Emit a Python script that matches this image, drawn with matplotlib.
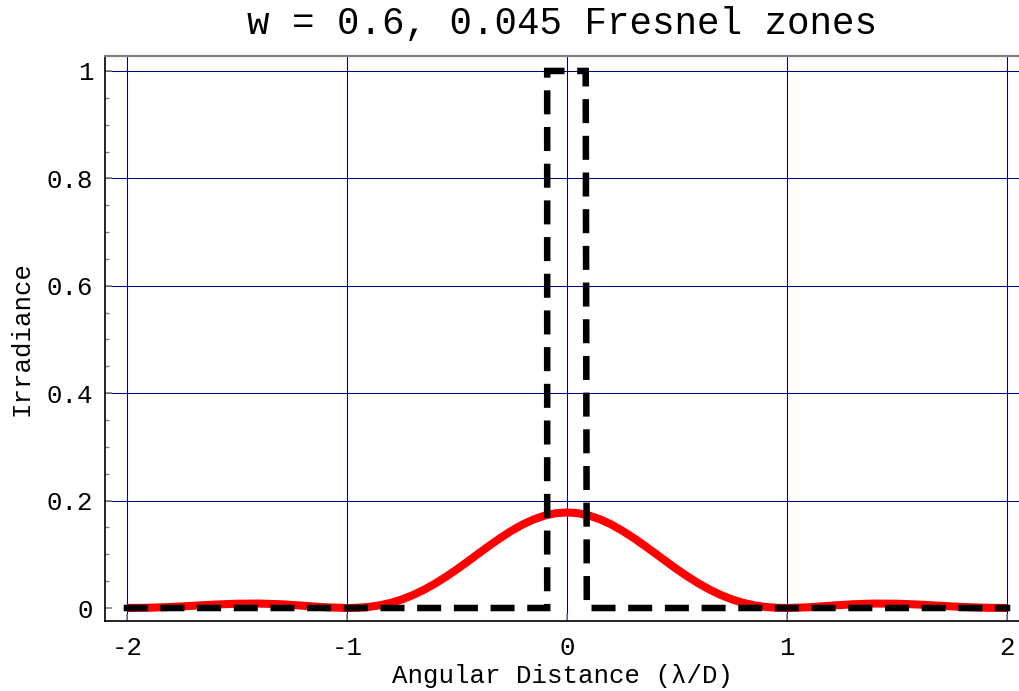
import matplotlib
matplotlib.use("Agg")
import matplotlib.pyplot as plt
from matplotlib.ticker import MultipleLocator

# irradiance of the diffraction pattern (finer sampling across the central lobe)
angle = [-2.0, -1.9, -1.8, -1.7, -1.6, -1.5, -1.4, -1.3, -1.2, -1.1,
         -1.0, -0.95, -0.9, -0.85, -0.8, -0.75, -0.7, -0.65, -0.6, -0.55,
         -0.5, -0.45, -0.4, -0.35, -0.3, -0.25, -0.2, -0.15, -0.1, -0.05,
         0.0, 0.05, 0.1, 0.15, 0.2, 0.25, 0.3, 0.35, 0.4, 0.45,
         0.5, 0.55, 0.6, 0.65, 0.7, 0.75, 0.8, 0.85, 0.9, 0.95,
         1.0, 1.1, 1.2, 1.3, 1.4, 1.5, 1.6, 1.7, 1.8, 1.9, 2.0]
irradiance = [0.0, 0.0005, 0.0019, 0.0041, 0.0064, 0.0080, 0.0083, 0.0070, 0.0043, 0.0014,
              0.0, 0.0005, 0.0021, 0.0051, 0.0097, 0.0160, 0.0241, 0.0339, 0.0453, 0.0582,
              0.0721, 0.0869, 0.1020, 0.1169, 0.1312, 0.1443, 0.1558, 0.1652, 0.1722, 0.1765,
              0.178, 0.1765, 0.1722, 0.1652, 0.1558, 0.1443, 0.1312, 0.1169, 0.1020, 0.0869,
              0.0721, 0.0582, 0.0453, 0.0339, 0.0241, 0.0160, 0.0097, 0.0051, 0.0021, 0.0005,
              0.0, 0.0014, 0.0043, 0.0070, 0.0083, 0.0080, 0.0064, 0.0041, 0.0019, 0.0005, 0.0]

# top-hat reference profile
rect_x = [-2.0, -0.09, -0.09, 0.085, 0.09, 2.0]
rect_y = [0.0, 0.0, 1.0, 1.0, 0.0, 0.0]

x_ticks = [-2, -1, 0, 1, 2]
y_ticks = [0, 0.2, 0.4, 0.6, 0.8, 1]
y_ticklabels = ["0", "0.2", "0.4", "0.6", "0.8", "1"]
y_grid = [0.2, 0.4, 0.6, 0.8, 1.0]

mono = "Liberation Mono"
grid_color = "#000080"

fig = plt.figure(figsize=(10.2, 6.91), dpi=100)
ax = fig.add_axes([0.1029, 0.1013, 0.8971, 0.8177])

for gx in x_ticks:
    ax.axvline(gx, color=grid_color, lw=0.75, zorder=1)
for gy in y_grid:
    ax.axhline(gy, color=grid_color, lw=0.75, zorder=1)

ax.plot(angle, irradiance, color="#ff0000", lw=5.8, solid_capstyle="butt",
        solid_joinstyle="round", zorder=3)
# square-capped dashes, pattern in units of the line width
ax.plot(rect_x, rect_y, color="black", lw=4.7, dashes=(2.68, 2.94),
        dash_capstyle="projecting", dash_joinstyle="miter", zorder=4)

ax.set_xlim(-2.1, 2.059)
ax.set_ylim(-0.0242, 1.0279)

ax.set_xticks(x_ticks)
ax.set_xticklabels([str(t) for t in x_ticks])
ax.set_yticks(y_ticks)
ax.set_yticklabels(y_ticklabels)
ax.yaxis.set_minor_locator(MultipleLocator(0.05))

ax.tick_params(axis="both", which="both", direction="in", color="#808080",
               labelsize=18.5, top=False, right=False)
ax.tick_params(axis="y", which="major", length=5, width=1.2, pad=8.3)
ax.tick_params(axis="y", which="minor", length=3, width=1.0)
ax.tick_params(axis="x", which="major", length=5, width=1.2, pad=11)
for lab in ax.get_xticklabels() + ax.get_yticklabels():
    lab.set_fontfamily(mono)

for side in ["left", "bottom"]:
    ax.spines[side].set_color("black")
    ax.spines[side].set_linewidth(1.2)
ax.spines["top"].set_color("#808080")
ax.spines["top"].set_linewidth(1.6)
ax.spines["right"].set_visible(False)

ax.set_xlabel("Angular Distance (\u03bb/D)", fontfamily=mono, fontsize=18.5, va="center")
ax.xaxis.set_label_coords(0.5, -0.0975)
ax.set_ylabel("Irradiance", fontfamily=mono, fontsize=18.5, va="center")
ax.yaxis.set_label_coords(-0.0907, 0.5)
ax.set_title("w = 0.6, 0.045 Fresnel zones", fontfamily=mono, fontsize=27,
             y=1.056, va="center", pad=0)

fig.savefig("out.png", dpi=100)
